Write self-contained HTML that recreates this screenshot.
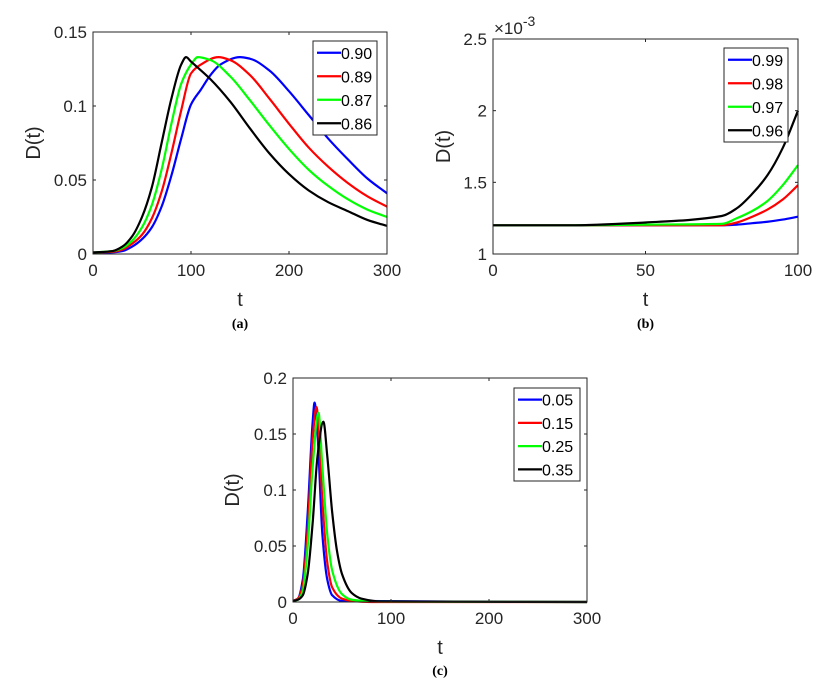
<!DOCTYPE html>
<html><head><meta charset="utf-8">
<style>
html,body{margin:0;padding:0;background:#fff;}
svg{display:block;font-family:"Liberation Sans",sans-serif;}
</style></head>
<body>
<svg id="fig" width="822" height="685" viewBox="0 0 822 685"></svg>
<script>
// Panel (a)
const aT = {
  s090:[0,20,30,40,50,60,70,80,90,100,110,120,130,150,160,180,200,220,240,260,280,300],
  s089:[0,20,30,40,50,60,70,80,90,100,110,128,140,160,180,200,220,240,260,280,300],
  s087:[0,20,30,40,50,60,70,80,90,100,107,120,140,160,180,200,220,240,260,280,300],
  s086:[0,20,30,40,50,60,70,80,90,95,100,120,140,160,180,200,220,240,260,280,300]
};
const aV = {
  s090:[0.001,0.0012,0.002,0.005,0.010,0.018,0.032,0.053,0.078,0.101,0.111,0.121,0.128,0.133,0.132,0.124,0.110,0.094,0.078,0.064,0.051,0.041],
  s089:[0.001,0.0015,0.003,0.007,0.013,0.024,0.042,0.068,0.097,0.122,0.128,0.133,0.131,0.121,0.105,0.088,0.072,0.059,0.048,0.039,0.032],
  s087:[0.001,0.002,0.004,0.009,0.018,0.033,0.057,0.088,0.115,0.128,0.133,0.131,0.120,0.104,0.087,0.071,0.057,0.046,0.037,0.030,0.025],
  s086:[0.001,0.002,0.005,0.012,0.025,0.045,0.075,0.105,0.128,0.133,0.130,0.118,0.103,0.085,0.068,0.054,0.043,0.035,0.029,0.023,0.019]
};
const aLabels = ["0.90","0.89","0.87","0.86"];
const aXTicks = [0,100,200,300];
const aYTicks = [0,0.05,0.1,0.15];
const aYTickLabels = ["0","0.05","0.1","0.15"];

// Panel (b) values in units of 1e-3
const bT = {
  s099:[0,25,50,75,80,85,90,95,100],
  s098:[0,25,50,75,80,85,90,95,100],
  s097:[0,25,50,75,80,85,90,95,100],
  s096:[0,25,50,75,80,85,90,95,100]
};
const bV = {
  s099:[1.2,1.2,1.2,1.2,1.205,1.215,1.225,1.24,1.26],
  s098:[1.2,1.2,1.2,1.2,1.22,1.26,1.31,1.38,1.48],
  s097:[1.2,1.2,1.205,1.21,1.25,1.30,1.37,1.48,1.62],
  s096:[1.2,1.2,1.22,1.265,1.32,1.42,1.55,1.74,2.0]
};
const bLabels = ["0.99","0.98","0.97","0.96"];
const bXTicks = [0,50,100];
const bYTicks = [1,1.5,2,2.5];
const bYTickLabels = ["1","1.5","2","2.5"];

// Panel (c)
const cT = {
  s005:[0,5,10,15,20,22,25,30,35,40,50,300],
  s015:[0,5,10,15,20,24,27,30,35,40,50,60,80,300],
  s025:[0,5,10,15,20,26,30,35,40,50,60,80,300],
  s035:[0,5,10,15,20,25,31,35,40,45,50,60,70,90,300]
};
const cV = {
  s005:[0.001,0.003,0.02,0.08,0.16,0.178,0.15,0.06,0.02,0.006,0.001,0],
  s015:[0.001,0.003,0.015,0.065,0.145,0.174,0.14,0.09,0.035,0.013,0.003,0.001,0,0],
  s025:[0.001,0.002,0.01,0.05,0.12,0.169,0.12,0.06,0.028,0.007,0.002,0.0005,0],
  s035:[0.001,0.002,0.006,0.025,0.07,0.13,0.161,0.13,0.08,0.045,0.025,0.008,0.003,0.0005,0]
};
const cLabels = ["0.05","0.15","0.25","0.35"];
const cXTicks = [0,100,200,300];
const cYTicks = [0,0.05,0.1,0.15,0.2];
const cYTickLabels = ["0","0.05","0.1","0.15","0.2"];

const colors = ["#0000ff","#ff0000","#00ff00","#000000"];
const NS = "http://www.w3.org/2000/svg";
const svg = document.getElementById("fig");
function mk(tag, attrs, parent){
  const e = document.createElementNS(NS, tag);
  for (const k in attrs) e.setAttribute(k, attrs[k]);
  (parent||svg).appendChild(e);
  return e;
}
// monotone cubic (Fritsch-Carlson) path in screen coords
function monoPath(pts){
  const n = pts.length;
  const dx = [], s = [];
  for (let i = 0; i < n-1; i++){ dx[i] = pts[i+1][0]-pts[i][0]; s[i] = (pts[i+1][1]-pts[i][1])/dx[i]; }
  const m = [];
  m[0] = s[0]; m[n-1] = s[n-2];
  for (let i = 1; i < n-1; i++){
    if (s[i-1]*s[i] <= 0) m[i] = 0;
    else { const w1 = 2*dx[i]+dx[i-1], w2 = dx[i]+2*dx[i-1]; m[i] = (w1+w2)/(w1/s[i-1]+w2/s[i]); }
  }
  let d = "M" + pts[0][0].toFixed(2) + " " + pts[0][1].toFixed(2);
  for (let i = 0; i < n-1; i++){
    const h = dx[i]/3;
    d += ` C${(pts[i][0]+h).toFixed(2)} ${(pts[i][1]+m[i]*h).toFixed(2)} ${(pts[i+1][0]-h).toFixed(2)} ${(pts[i+1][1]-m[i+1]*h).toFixed(2)} ${pts[i+1][0].toFixed(2)} ${pts[i+1][1].toFixed(2)}`;
  }
  return d;
}

function panel(cfg){
  const g = mk("g", {});
  
  
  const {x0,x1,y0,y1,xmin,xmax,ymin,ymax} = cfg;
  const sx = v => x0 + (v - xmin) / (xmax - xmin) * (x1 - x0);
  const sy = v => y1 - (v - ymin) / (ymax - ymin) * (y1 - y0);
  const keys = Object.keys(cfg.T);
  keys.forEach((k, i) => {
    const pts = cfg.T[k].map((t, j) => [sx(t), Math.min(y1, sy(cfg.V[k][j]))]);
    const p = mk("path", {d:monoPath(pts), fill:"none", stroke:colors[i], "stroke-width":2.2, "stroke-linejoin":"round"}, g);
    
    
  });
  const box = mk("rect", {x:x0, y:y0, width:x1-x0, height:y1-y0, fill:"none", stroke:"#262626", "stroke-width":1}, g);
  
  
  cfg.xTicks.forEach(t => {
    const x = sx(t);
    mk("line", {x1:x, x2:x, y1:y1, y2:y1-3, stroke:"#262626"}, g);
    mk("line", {x1:x, x2:x, y1:y0, y2:y0+3, stroke:"#262626"}, g);
    const tx = mk("text", {x:x, y:y1+22, "font-size":17, "text-anchor":"middle", fill:"#262626"}, g);
    tx.textContent = t;
    
    
  });
  cfg.yTicks.forEach((t, i) => {
    const y = sy(t);
    mk("line", {x1:x0, x2:x0+3, y1:y, y2:y, stroke:"#262626"}, g);
    mk("line", {x1:x1, x2:x1-3, y1:y, y2:y, stroke:"#262626"}, g);
    const tx = mk("text", {x:x0-6, y:y+6, "font-size":17, "text-anchor":"end", fill:"#262626"}, g);
    tx.textContent = cfg.yTickLabels[i];
    
    
  });
  const xt = mk("text", {x:(x0+x1)/2, y:y1+52, "font-size":20, "text-anchor":"middle", fill:"#262626"}, g);
  xt.textContent = "t";
  
  
  const yt = mk("text", {x:0, y:0, "font-size":20, "text-anchor":"middle", fill:"#262626", transform:`translate(${cfg.ylabX},${(y0+y1)/2}) rotate(-90)`}, g);
  yt.textContent = "D(t)";
  
  
  const cap = mk("text", {x:(x0+x1)/2, y:cfg.capY, "font-size":14, "font-weight":"bold", "text-anchor":"middle", "font-family":"Liberation Serif, serif"}, g);
  cap.textContent = cfg.caption;
  
  
  const L = cfg.leg;
  const lg = mk("g", {}, g);
  
  
  mk("rect", {x:L.x, y:L.y, width:L.w, height:L.h, fill:"#fff", stroke:"#262626", "stroke-width":1}, lg);
  const step = L.h / 4;
  cfg.labels.forEach((lab, i) => {
    const cy = L.y + step * (i + 0.5);
    mk("line", {x1:L.x+4, x2:L.x+28, y1:cy, y2:cy, stroke:colors[i], "stroke-width":2.2}, lg);
    const tx = mk("text", {x:L.x+28, y:cy+6, "font-size":16, fill:"#000"}, lg);
    tx.textContent = lab;
    
    
  });
  return {g, sx, sy};
}

panel({name:"panel-a", x0:93, x1:387, y0:32, y1:254, xmin:0, xmax:300, ymin:0, ymax:0.15,
  T:aT, V:aV, labels:aLabels, xTicks:aXTicks, yTicks:aYTicks, yTickLabels:aYTickLabels,
  ylabX:40, capY:328, caption:"(a)", leg:{x:313, y:41, w:64, h:94}});
const pb = panel({name:"panel-b", x0:493, x1:798, y0:39, y1:254, xmin:0, xmax:100, ymin:1, ymax:2.5,
  T:bT, V:bV, labels:bLabels, xTicks:bXTicks, yTicks:bYTicks, yTickLabels:bYTickLabels,
  ylabX:450, capY:328, caption:"(b)", leg:{x:724, y:48, w:64, h:94}});
const exp = mk("text", {x:494, y:34, "font-size":17, fill:"#262626"}, pb.g);
exp.innerHTML = '×10<tspan dy="-8" font-size="14">-3</tspan>';


panel({name:"panel-c", x0:293, x1:587, y0:378, y1:602, xmin:0, xmax:300, ymin:0, ymax:0.2,
  T:cT, V:cV, labels:cLabels, xTicks:cXTicks, yTicks:cYTicks, yTickLabels:cYTickLabels,
  ylabX:239, capY:675, caption:"(c)", leg:{x:514, y:388, w:66, h:93}});
</script>
</body></html>
